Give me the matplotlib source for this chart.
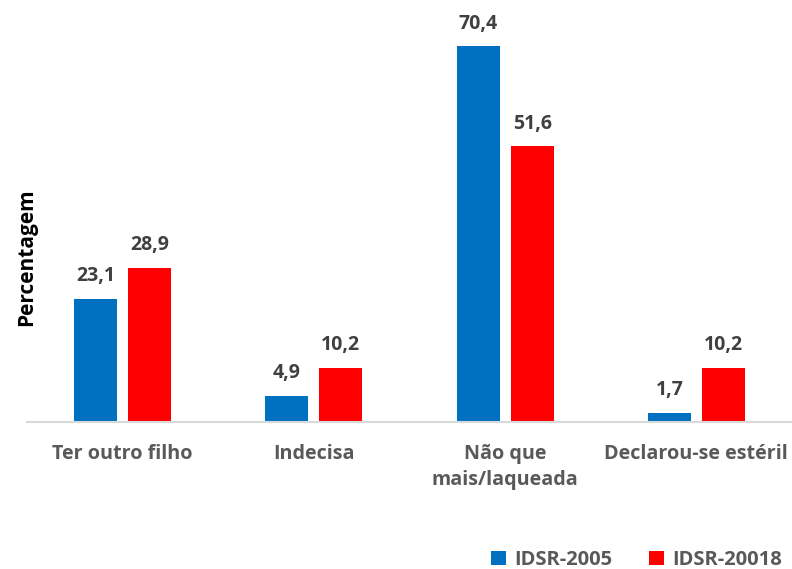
import matplotlib.pyplot as plt
import numpy as np

categories = ["Ter outro filho", "Indecisa", "Não que\nmais/laqueada", "Declarou-se estéril"]
series_names = ["IDSR-2005", "IDSR-20018"]
idsr_2005 = [23.1, 4.9, 70.4, 1.7]
idsr_2018 = [28.9, 10.2, 51.6, 10.2]

blue = "#0070C0"
red = "#FF0000"
label_grey = "#404040"
tick_grey = "#595959"

plt.rcParams["font.family"] = ["Open Sans", "DejaVu Sans"]
plt.rcParams["font.weight"] = "bold"

fig = plt.figure(figsize=(7.92, 5.69), dpi=100)
ax = fig.add_axes([27 / 792, 1 - 422 / 569, 765 / 792, 400.5 / 569])

x = np.arange(len(categories))
offset = 0.141
width = 0.225

b1 = ax.bar(x - offset, idsr_2005, width, color=blue, label=series_names[0])
b2 = ax.bar(x + offset, idsr_2018, width, color=red, label=series_names[1])

for bars, vals in ((b1, idsr_2005), (b2, idsr_2018)):
    for bar, v in zip(bars, vals):
        ax.annotate(f"{v:.1f}".replace(".", ","),
                    (bar.get_x() + bar.get_width() / 2, v),
                    xytext=(0, 9), textcoords="offset points",
                    ha="center", va="bottom", fontsize=14,
                    fontweight="bold", color=label_grey)

ax.set_xlim(-0.5, 3.5)
ax.set_ylim(0, 75)
ax.set_yticks([])
ax.set_xticks(x)
ax.set_xticklabels(categories, fontsize=14.2, fontweight="bold", color=tick_grey,
                   linespacing=1.4)
ax.tick_params(axis="x", length=0, pad=16)
for side in ("top", "right", "left"):
    ax.spines[side].set_visible(False)
ax.spines["bottom"].set_color("#D9D9D9")
ax.spines["bottom"].set_linewidth(1.5)

fig.text(27 / 792, 1 - 257 / 569, "Percentagem", rotation=90, ha="center", va="center",
         fontsize=15, fontweight="bold", color="black")

fig.legend(handles=[b1, b2], loc="center right", bbox_to_anchor=(800 / 792, 1 - 560 / 569),
           ncol=2, frameon=False, fontsize=14.5, handlelength=0.75, handleheight=0.75,
           handletextpad=0.4, columnspacing=1.8, labelcolor=tick_grey)

fig.savefig("out.png", dpi=100)
